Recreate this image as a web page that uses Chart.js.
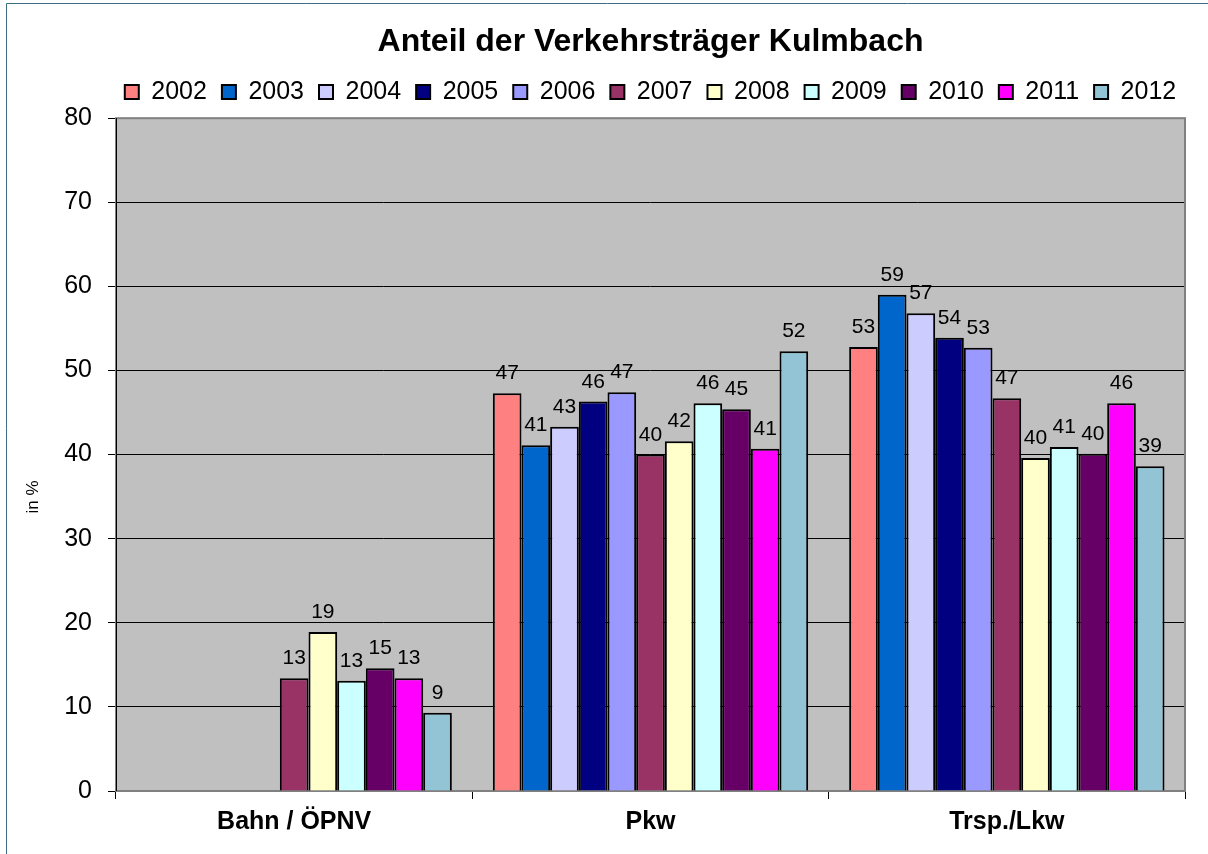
<!DOCTYPE html>
<html><head><meta charset="utf-8">
<script src="https://cdn.jsdelivr.net/npm/chart.js@4/dist/chart.umd.min.js"></script>
<style>html,body{margin:0;padding:0;background:#fff;} canvas{display:block;}</style>
</head><body>
<canvas id="c" width="1208" height="854"></canvas>
<script>
const categories = ['Bahn / ÖPNV', 'Pkw', 'Trsp./Lkw'];
const years = ['2002','2003','2004','2005','2006','2007','2008','2009','2010','2011','2012'];
const v2002 = [null, 47.3, 52.8];
const v2003 = [null, 41.1, 59.0];
const v2004 = [null, 43.3, 56.8];
const v2005 = [null, 46.3, 53.9];
const v2006 = [null, 47.4, 52.7];
const v2007 = [13.4, 40.0, 46.7];
const v2008 = [18.9, 41.6, 39.6];
const v2009 = [13.1, 46.1, 40.9];
const v2010 = [14.6, 45.4, 40.1];
const v2011 = [13.4, 40.7, 46.1];
const v2012 = [9.3, 52.3, 38.6];
const yTicks = [0, 10, 20, 30, 40, 50, 60, 70, 80];
const titleText = 'Anteil der Verkehrsträger Kulmbach';
const yTitle = 'in %';

const seriesValues = [v2002, v2003, v2004, v2005, v2006, v2007, v2008, v2009, v2010, v2011, v2012];
const seriesColors = ['#FF8080','#0066CC','#CCCCFF','#000080','#9999FF','#993366','#FFFFCC','#CCFFFF','#660066','#FF00FF','#93C4D6'];

const FONT = '"Liberation Sans", Arial, Helvetica, sans-serif';
Chart.defaults.font.family = FONT;
Chart.defaults.color = '#000';

const bgPlugin = {
  id: 'bg',
  beforeDraw(chart) {
    const ctx = chart.ctx, a = chart.chartArea;
    ctx.save();
    ctx.fillStyle = '#fff';
    ctx.fillRect(0, 0, chart.width, chart.height);
    ctx.strokeStyle = '#3a6e80';
    ctx.lineWidth = 1;
    ctx.beginPath();
    ctx.moveTo(6.5, chart.height);
    ctx.lineTo(6.5, 3.5);
    ctx.lineTo(chart.width, 3.5);
    ctx.stroke();
    ctx.fillStyle = '#C0C0C0';
    ctx.fillRect(a.left, a.top, a.right - a.left, a.bottom - a.top);
    ctx.restore();
  },
  beforeDatasetsDraw(chart) {
    const ctx = chart.ctx, a = chart.chartArea;
    ctx.save();
    ctx.strokeStyle = '#808080';
    ctx.lineWidth = 2;
    ctx.strokeRect(a.left, a.top, a.right - a.left, a.bottom - a.top);
    ctx.strokeStyle = '#000';
    ctx.lineWidth = 1;
    ctx.beginPath();
    ctx.moveTo(a.left + 0.5, a.top); ctx.lineTo(a.left + 0.5, a.bottom);
    ctx.stroke();
    ctx.restore();
  },
  afterDatasetsDraw(chart) {
    const ctx = chart.ctx;
    ctx.save();
    ctx.font = '21px ' + FONT;
    ctx.fillStyle = '#000';
    ctx.textAlign = 'center';
    ctx.textBaseline = 'alphabetic';
    chart.data.datasets.forEach((ds, i) => {
      const meta = chart.getDatasetMeta(i);
      meta.data.forEach((el, j) => {
        const v = ds.data[j];
        if (v === null || v === undefined) return;
        ctx.fillText(String(Math.round(v)), el.x, el.y - 14);
      });
    });
    ctx.restore();
  },
  afterDraw(chart) {
    const ctx = chart.ctx;
    ctx.save();
    ctx.translate(33, 497);
    ctx.rotate(-Math.PI / 2);
    ctx.font = '17px ' + FONT;
    ctx.fillStyle = '#000';
    ctx.textAlign = 'center';
    ctx.textBaseline = 'middle';
    ctx.fillText(yTitle, 0, 0);
    ctx.restore();
  },
  beforeLayout(chart) {
    const lg = chart.legend;
    if (lg && !lg._patched) {
      const orig = lg.fit;
      lg.fit = function () {
        const mw = this.maxWidth;
        this.maxWidth = 2000;
        orig.call(this);
        this.maxWidth = mw;
        this.width = mw;
        this.height = 53.8;
      };
      lg._patched = true;
    }
  },
  afterLayout(chart) {
    const lg = chart.legend;
    if (lg) {
      lg.left = chart.chartArea.left - 12;
      lg.right = chart.chartArea.right + 12;
      lg.width = lg.right - lg.left;
    }
  }
};

new Chart(document.getElementById('c'), {
  type: 'bar',
  data: {
    labels: categories,
    datasets: years.map((y, i) => ({
      label: y,
      data: seriesValues[i],
      backgroundColor: seriesColors[i],
      borderColor: '#000',
      borderWidth: 2,
      categoryPercentage: 0.885,
      barPercentage: 1.0
    }))
  },
  options: {
    responsive: false,
    devicePixelRatio: 1,
    animation: false,
    layout: { padding: { left: 0, right: 23, top: 0, bottom: 0 } },
    plugins: {
      title: {
        display: true, text: titleText, fullSize: false, color: '#000',
        font: { family: FONT, size: 32, weight: 'bold' },
        padding: { top: 23, bottom: 3 }
      },
      legend: {
        display: true, position: 'top', fullSize: false,
        labels: { boxWidth: 14, boxHeight: 14, padding: 15, color: '#000', font: { family: FONT, size: 25 } }
      },
      tooltip: { enabled: false }
    },
    scales: {
      x: {
        grid: { offset: true, drawOnChartArea: false, drawTicks: true, tickLength: 8, color: '#000', tickColor: '#000' },
        border: { display: true, color: '#000', width: 1 },
        ticks: { font: { family: FONT, size: 25, weight: 'bold' }, color: '#000', padding: 8, maxRotation: 0 },
        afterFit(s) { s.height = 63; }
      },
      y: {
        min: 0, max: 80,
        afterBuildTicks(s) { s.ticks = yTicks.map(v => ({ value: v })); },
        ticks: { font: { family: FONT, size: 25 }, color: '#000', padding: 16 },
        grid: { color: '#000', tickLength: 8, tickColor: '#000', lineWidth: 1 },
        border: { display: false },
        afterFit(s) { s.width = 116; }
      }
    }
  },
  plugins: [bgPlugin]
});
</script>
</body></html>
